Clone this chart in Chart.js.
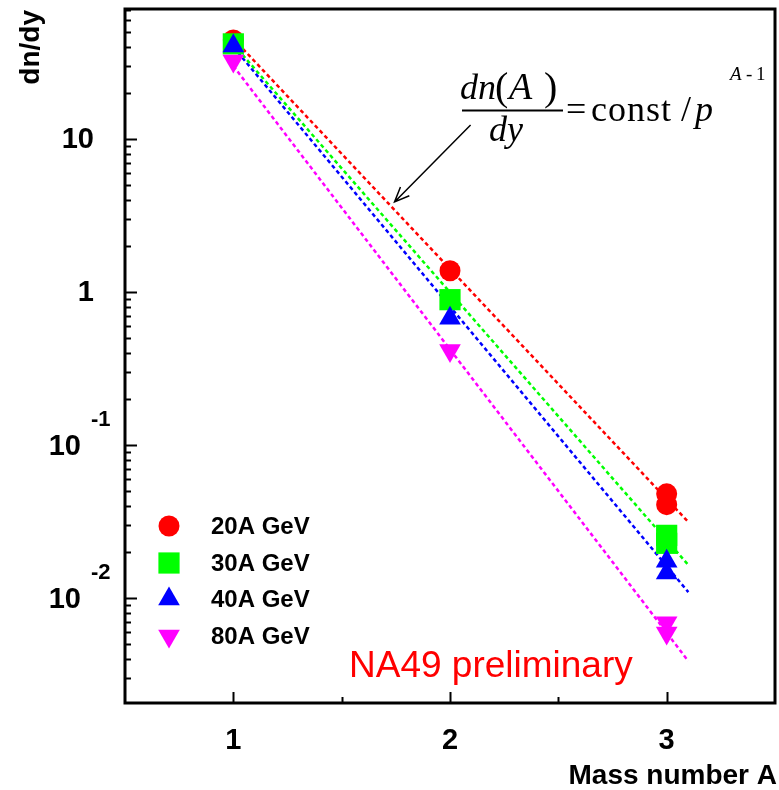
<!DOCTYPE html>
<html>
<head>
<meta charset="utf-8">
<script src="https://cdn.jsdelivr.net/npm/chart.js@4/dist/chart.umd.min.js"></script>
<style>
  html, body { margin: 0; padding: 0; background: #fff; }
  canvas { display: block; }
</style>
</head>
<body>
<canvas id="massChart" width="779" height="790"></canvas>
<script>
// measured points (mass number A, dn/dy)
const massX = [1, 2, 3, 3];
const yield20 = [44.6, 1.38, 0.048, 0.0408];
const yield30 = [42, 0.893, 0.0257, 0.0228];
const yield40 = [40.7, 0.676, 0.0174, 0.01456];
const yield80 = [32.5, 0.416, 0.0069, 0.0059];

// fit lines dn/dy = const / p^(A-1), two ends each
const fitX = [1, 3.1];
const fit20 = [45.4, 0.0314];
const fit30 = [41.7, 0.01644];
const fit40 = [40.1, 0.01094];
const fit80 = [30.1, 0.00387];

const seriesLabels = ['20A GeV', '30A GeV', '40A GeV', '80A GeV'];
const seriesColors = ['#ff0000', '#00ff00', '#0000ff', '#ff00ff'];

const xTicks = [1, 2, 3];
const xMinorTicks = [1.5, 2.5];
const yTicks = [10, 1, 0.1, 0.01];
const yTickBase = ['10', '1', '10', '10'];
const yTickExp = ['', '', '-1', '-2'];

// arrow from formula to the fit lines, in data units
const arrowFrom = [2.095, 12.4];
const arrowTo = [1.744, 3.89];

const toXY = (xs, ys) => ys.map((y, i) => ({ x: xs[i], y: y }));

function fitDataset(ys, color, order) {
  return {
    data: toXY(fitX, ys),
    showLine: true,
    borderColor: color,
    borderWidth: 2.5,
    borderDash: [4, 3],
    pointRadius: 0,
    fill: false,
    order: order,
  };
}

function pointDataset(ys, color, style, radius, rotation, order) {
  return {
    data: toXY(massX, ys),
    showLine: false,
    pointStyle: style,
    pointRadius: radius,
    pointRotation: rotation,
    backgroundColor: color,
    borderColor: color,
    pointBorderWidth: 0,
    order: order,
  };
}

function drawMarker(ctx, style, x, y, r, color) {
  ctx.save();
  ctx.fillStyle = color;
  ctx.beginPath();
  if (style === 'circle') {
    ctx.arc(x, y, r, 0, Math.PI * 2);
  } else if (style === 'rect') {
    const s = r * Math.SQRT1_2;
    ctx.rect(x - s, y - s, 2 * s, 2 * s);
  } else if (style === 'up') {
    ctx.moveTo(x, y - r);
    ctx.lineTo(x + r * 0.866, y + r * 0.5);
    ctx.lineTo(x - r * 0.866, y + r * 0.5);
  } else {
    ctx.moveTo(x, y + r);
    ctx.lineTo(x + r * 0.866, y - r * 0.5);
    ctx.lineTo(x - r * 0.866, y - r * 0.5);
  }
  ctx.closePath();
  ctx.fill();
  ctx.restore();
}

const framePlugin = {
  id: 'frame',
  afterDatasetsDraw(chart) {
    const { ctx, chartArea: a, scales } = chart;
    const xs = scales.x, ys = scales.y;
    const sans = '"Liberation Sans", Arial, sans-serif';
    const serif = '"Liberation Serif", "Times New Roman", serif';
    ctx.save();

    // frame
    ctx.strokeStyle = '#000';
    ctx.lineWidth = 3;
    ctx.strokeRect(a.left, a.top, a.right - a.left, a.bottom - a.top);

    // y ticks, inward
    ctx.lineWidth = 2;
    for (let e = -3; e <= 1; e++) {
      for (let m = 1; m <= 9; m++) {
        const v = m * Math.pow(10, e);
        if (v < ys.min || v > ys.max) continue;
        const py = Math.round(ys.getPixelForValue(v)) + 0.5;
        const len = m === 1 ? 12 : 6;
        ctx.beginPath();
        ctx.moveTo(a.left, py);
        ctx.lineTo(a.left + len, py);
        ctx.stroke();
      }
    }
    // x ticks, inward
    xTicks.forEach((v) => {
      const px = Math.round(xs.getPixelForValue(v)) + 0.5;
      ctx.beginPath();
      ctx.moveTo(px, a.bottom);
      ctx.lineTo(px, a.bottom - 11);
      ctx.stroke();
    });
    xMinorTicks.forEach((v) => {
      const px = Math.round(xs.getPixelForValue(v)) + 0.5;
      ctx.beginPath();
      ctx.moveTo(px, a.bottom);
      ctx.lineTo(px, a.bottom - 6);
      ctx.stroke();
    });

    // tick labels
    ctx.fillStyle = '#000';
    ctx.font = 'bold 29px ' + sans;
    ctx.textBaseline = 'middle';
    ctx.textAlign = 'center';
    xTicks.forEach((v) => {
      ctx.fillText(String(v), xs.getPixelForValue(v), 741);
    });
    yTicks.forEach((v, i) => {
      const py = ys.getPixelForValue(v);
      ctx.font = 'bold 29px ' + sans;
      ctx.textAlign = 'right';
      if (yTickExp[i]) {
        ctx.fillText(yTickBase[i], 81, py + 2);
        ctx.font = 'bold 22px ' + sans;
        ctx.textAlign = 'left';
        ctx.fillText(yTickExp[i], 91, py - 25);
      } else {
        ctx.fillText(yTickBase[i], 94, py + 1);
      }
    });

    // axis titles
    ctx.font = 'bold 28px ' + sans;
    ctx.textAlign = 'right';
    ctx.textBaseline = 'alphabetic';
    ctx.fillText('Mass number A', 777, 784);
    ctx.save();
    ctx.translate(39, 10);
    ctx.rotate(-Math.PI / 2);
    ctx.textAlign = 'right';
    ctx.fillText('dn/dy', 0, 0);
    ctx.restore();

    // arrow
    const x0 = xs.getPixelForValue(arrowFrom[0]), y0 = ys.getPixelForValue(arrowFrom[1]);
    const x1 = xs.getPixelForValue(arrowTo[0]), y1 = ys.getPixelForValue(arrowTo[1]);
    const ang = Math.atan2(y1 - y0, x1 - x0);
    ctx.strokeStyle = '#000';
    ctx.lineWidth = 1.5;
    ctx.beginPath();
    ctx.moveTo(x0, y0);
    ctx.lineTo(x1, y1);
    ctx.moveTo(x1 - 16 * Math.cos(ang - 0.4), y1 - 16 * Math.sin(ang - 0.4));
    ctx.lineTo(x1, y1);
    ctx.lineTo(x1 - 16 * Math.cos(ang + 0.4), y1 - 16 * Math.sin(ang + 0.4));
    ctx.stroke();

    // formula
    ctx.textAlign = 'left';
    ctx.textBaseline = 'alphabetic';
    ctx.font = 'italic 36px ' + serif;
    ctx.fillText('dn', 460, 99);
    ctx.font = '40px ' + serif;
    ctx.fillText('(', 495, 100);
    ctx.fillText(')', 544, 100);
    ctx.font = 'italic 38px ' + serif;
    ctx.fillText('A', 509, 99);
    ctx.font = 'italic 36px ' + serif;
    ctx.fillText('dy', 489, 141);
    ctx.lineWidth = 2;
    ctx.beginPath();
    ctx.moveTo(462, 110.5);
    ctx.lineTo(563, 110.5);
    ctx.stroke();
    ctx.font = '36px ' + serif;
    ctx.fillText('=', 566, 121);
    ctx.letterSpacing = '1px';
    ctx.fillText('const', 591, 121);
    ctx.letterSpacing = '0px';
    ctx.fillText('/', 681, 121);
    ctx.font = 'italic 36px ' + serif;
    ctx.fillText('p', 695, 121);
    ctx.font = 'italic 19px ' + serif;
    ctx.fillText('A', 730, 80);
    ctx.font = '19px ' + serif;
    ctx.fillText('-', 746, 80);
    ctx.fillText('1', 756, 80);

    // legend
    const legendStyles = ['circle', 'rect', 'up', 'down'];
    const legendRadius = [10.5, 15, 12.5, 12.5];
    const legendY = [526, 563, 599, 636];
    ctx.font = 'bold 24px ' + sans;
    ctx.textBaseline = 'middle';
    seriesLabels.forEach((lab, i) => {
      drawMarker(ctx, legendStyles[i], 169, legendY[i], legendRadius[i], seriesColors[i]);
      ctx.fillStyle = '#000';
      ctx.fillText(lab, 211, legendY[i] + 1);
    });

    // NA49 label
    ctx.fillStyle = '#ff0000';
    ctx.font = '37px ' + sans;
    ctx.textBaseline = 'alphabetic';
    ctx.fillText('NA49 preliminary', 349, 677);

    ctx.restore();
  },
};

new Chart(document.getElementById('massChart'), {
  type: 'scatter',
  data: {
    datasets: [
      pointDataset(yield80, seriesColors[3], 'triangle', 12.5, 180, 1),
      pointDataset(yield40, seriesColors[2], 'triangle', 12.5, 0, 2),
      pointDataset(yield30, seriesColors[1], 'rect', 15, 0, 3),
      pointDataset(yield20, seriesColors[0], 'circle', 10.5, 0, 4),
      fitDataset(fit20, seriesColors[0], 5),
      fitDataset(fit30, seriesColors[1], 6),
      fitDataset(fit40, seriesColors[2], 7),
      fitDataset(fit80, seriesColors[3], 8),
    ],
  },
  options: {
    responsive: false,
    animation: false,
    events: [],
    layout: { autoPadding: false, padding: { left: 125, top: 9, right: 4, bottom: 87 } },
    scales: {
      x: { type: 'linear', min: 0.5, max: 3.5, display: false },
      y: { type: 'logarithmic', min: 0.00206, max: 71, display: false },
    },
    plugins: {
      legend: { display: false },
      tooltip: { enabled: false },
    },
  },
  plugins: [framePlugin],
});
</script>
</body>
</html>
